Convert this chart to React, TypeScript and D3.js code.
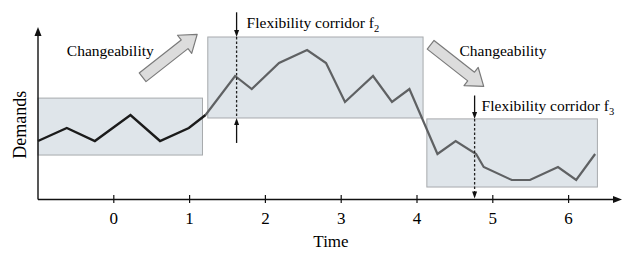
import React from 'react';
import * as d3 from 'd3';

// time axis tick labels
const tickValues = [0, 1, 2, 3, 4, 5, 6];

// demand curve (time, demand level)
const timeValues = [-1.0, -0.62, -0.25, 0.22, 0.61, 0.99, 1.21, 1.6, 1.82, 2.18, 2.55, 2.8, 3.05,
    3.42, 3.67, 3.9, 4.27, 4.51, 4.78, 4.88, 5.25, 5.49, 5.86, 6.1, 6.35];
const demandValues = [4, 5, 4, 6, 4, 5, 6, 9, 8, 10, 11, 10, 7, 9, 7, 8, 3, 4, 3, 2, 1, 1, 2, 1, 3];
const darkPart = 7; // first points drawn in black

// flexibility corridors (shaded boxes)
const corridorStart = [-1.0, 1.24, 4.13];
const corridorEnd = [1.17, 4.08, 6.38];
const corridorLow = [2.92, 5.77, 0.46];
const corridorHigh = [7.3, 12.0, 5.7];

// corridor markers (vertical arrows)
const markerX = [1.62, 4.76];
const markerTop = [13.9, 7.5];
const markerBottom = [3.85, -0.5];
const markerBox = [1, 2];
const markerLabels = ['2', '3'];

// changeability block arrows: [x0, y0, x1, y1] in data units
const changeArrows = [[0.38, 8.9, 1.1, 12.2], [4.18, 11.4, 4.88, 8.2]];
const changeLabelX = [-0.62, 4.56];
const changeLabelY = [10.55, 10.55];

const width = 622;
const height = 253;
const font = '"Liberation Serif", "Times New Roman", serif';

function blockArrow(x0: number, y0: number, x1: number, y1: number) {
    const len = Math.hypot(x1 - x0, y1 - y0);
    const ang = Math.atan2(y1 - y0, x1 - x0);
    const sw = 5.5, hw = 11.5, hl = 16;
    const pts: [number, number][] = [
        [0, -sw], [len - hl, -sw], [len - hl, -hw], [len, 0], [len - hl, hw], [len - hl, sw], [0, sw]
    ];
    const c = Math.cos(ang), s = Math.sin(ang);
    return 'M' + pts.map(([u, v]) => `${x0 + u * c - v * s},${y0 + u * s + v * c}`).join('L') + 'Z';
}

function Head({ x, y, dir }: { x: number, y: number, dir: number }) {
    // dir 1 = pointing down, -1 = pointing up
    return <path d={`M${x},${y} L${x - 2.5},${y - 7 * dir} L${x + 2.5},${y - 7 * dir} Z`} fill="#111" />;
}

export default function App() {
    const x = d3.scaleLinear().domain([-1, 6]).range([38, 568.6]);
    const y = d3.scaleLinear().domain([-0.5, 12.5]).range([199.5, 30.5]);
    const axisY = y(-0.5);
    const axisX = x(-1);

    const pts: [number, number][] = timeValues.map((t, i) => [x(t), y(demandValues[i])]);
    const line = d3.line();

    return (
        <svg width={width} height={height} style={{ position: 'absolute', left: 0, top: 0, background: '#fff' }}
             fontFamily={font}>
            {corridorStart.map((s, i) => (
                <rect key={i} x={x(s)} y={y(corridorHigh[i])} width={x(corridorEnd[i]) - x(s)}
                      height={y(corridorLow[i]) - y(corridorHigh[i])}
                      fill="#dfe5ea" stroke="#a7aaad" strokeWidth={1} />
            ))}

            {/* axes */}
            <line x1={axisX} y1={axisY} x2={618} y2={axisY} stroke="#111" strokeWidth={1.4} />
            <path d={`M622,${axisY} L613,${axisY - 3.5} L613,${axisY + 3.5} Z`} fill="#111" />
            <line x1={axisX} y1={axisY} x2={axisX} y2={32} stroke="#111" strokeWidth={1.4} />
            <path d={`M${axisX},27 L${axisX - 3.5},36 L${axisX + 3.5},36 Z`} fill="#111" />
            {tickValues.map(t => (
                <g key={t}>
                    <line x1={x(t)} x2={x(t)} y1={axisY - 4.5} y2={axisY + 3.5} stroke="#111" strokeWidth={1.2} />
                    <text x={x(t)} y={axisY + 24} textAnchor="middle" fontSize={17}>{t}</text>
                </g>
            ))}
            <text x={331} y={247} textAnchor="middle" fontSize={17}>Time</text>
            <text transform={`translate(26,${(axisY + 30) / 2 + 10}) rotate(-90)`} textAnchor="middle" fontSize={18}>Demands</text>

            {/* demand curve */}
            <path d={line(pts.slice(darkPart - 1)) || ''} fill="none" stroke="#5f6163" strokeWidth={2.2}
                  strokeLinejoin="miter" />
            <path d={line(pts.slice(0, darkPart)) || ''} fill="none" stroke="#1b1b1b" strokeWidth={2.4}
                  strokeLinejoin="miter" />

            {/* corridor markers */}
            {markerX.map((m, i) => {
                const box = markerBox[i];
                const top = y(corridorHigh[box]);
                const bot = y(corridorLow[box]);
                const endY = y(markerBottom[i]);
                const below = endY > bot + 2;
                return (
                    <g key={i}>
                        <line x1={x(m)} x2={x(m)} y1={y(markerTop[i])} y2={top - 4} stroke="#111" strokeWidth={1.3} />
                        <Head x={x(m)} y={top} dir={1} />
                        <line x1={x(m)} x2={x(m)} y1={top} y2={i === 0 ? bot : endY - 4} stroke="#222"
                              strokeWidth={1.3} strokeDasharray="2.5,2" />
                        {i === 0 && below && (
                            <g>
                                <Head x={x(m)} y={bot} dir={-1} />
                                <line x1={x(m)} x2={x(m)} y1={bot + 4} y2={endY} stroke="#111" strokeWidth={1.3} />
                            </g>
                        )}
                        {i === 1 && <Head x={x(m)} y={endY - 1} dir={1} />}
                        <text x={x(m) + (i === 0 ? 10 : 7)} y={top - (i === 0 ? 9 : 8)} fontSize={15.5}>
                            Flexibility corridor f<tspan fontSize={10.5} dy={4}>{markerLabels[i]}</tspan>
                        </text>
                    </g>
                );
            })}

            {/* changeability arrows */}
            {changeArrows.map((a, i) => (
                <g key={i}>
                    <path d={blockArrow(x(a[0]), y(a[1]), x(a[2]), y(a[3]))} fill="#dcdcdc" stroke="#7a7a7a"
                          strokeWidth={1.2} strokeLinejoin="round" />
                    <text x={x(changeLabelX[i])} y={y(changeLabelY[i])} fontSize={15.5}>Changeability</text>
                </g>
            ))}
        </svg>
    );
}
